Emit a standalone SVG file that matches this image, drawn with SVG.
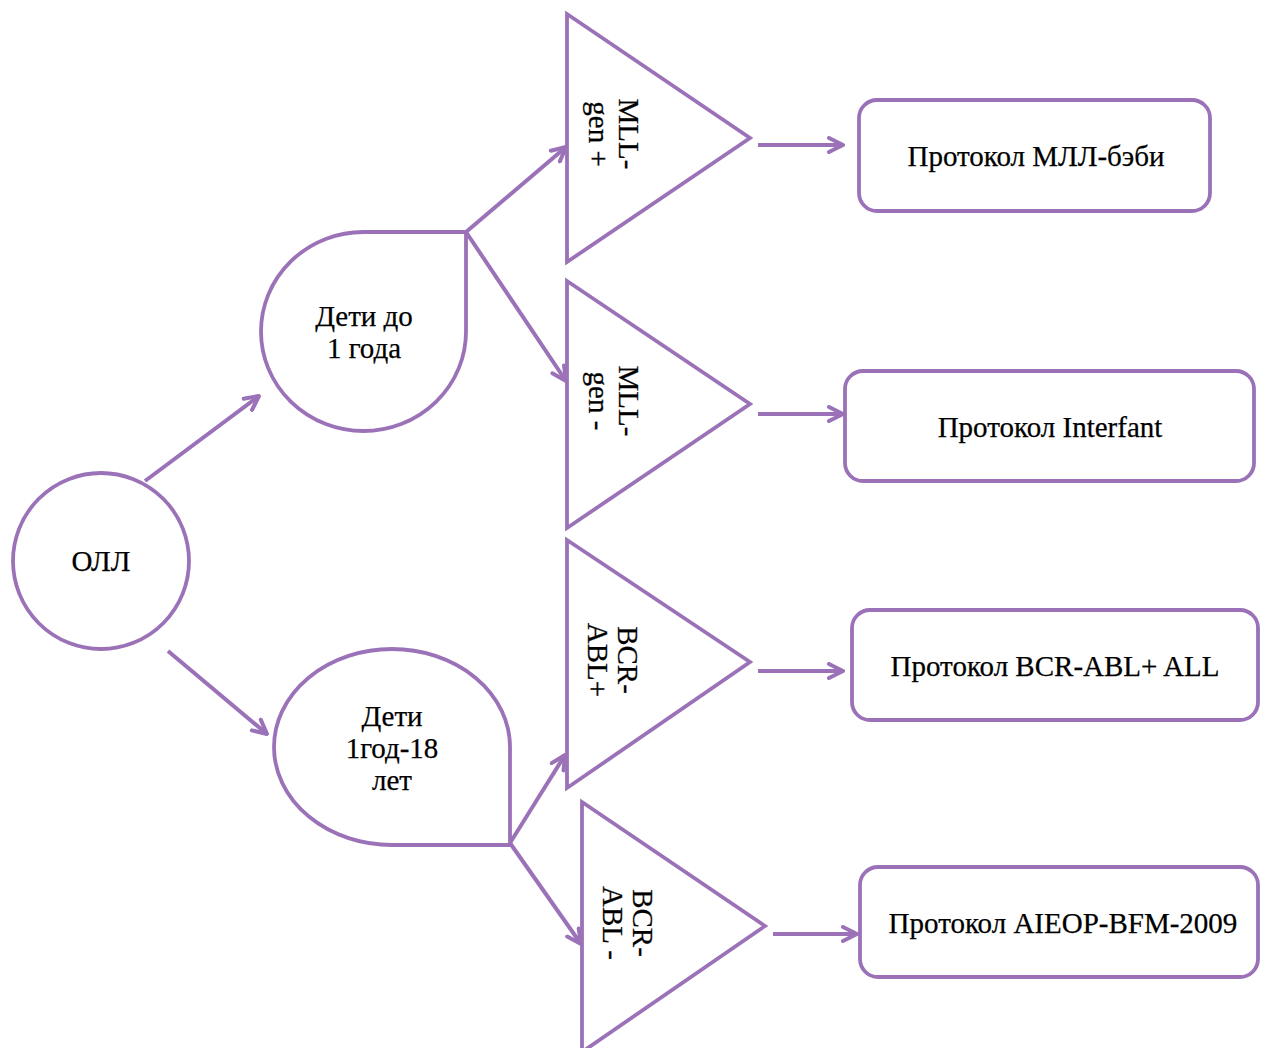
<svg xmlns="http://www.w3.org/2000/svg" width="1261" height="1048" viewBox="0 0 1261 1048">
<style>
.s{fill:#fff;stroke:#9b72b8;stroke-width:3.8;stroke-linejoin:miter}
.c{fill:none;stroke:#9b72b8;stroke-width:4}
.t{font-family:"Liberation Serif","Times New Roman",serif;font-size:29px;fill:#000;text-anchor:middle;stroke:#000;stroke-width:0.25}
</style>
<defs>
<marker id="ah" viewBox="0 0 18 18" refX="16" refY="9" markerWidth="18" markerHeight="18" markerUnits="userSpaceOnUse" orient="auto">
<path d="M2,2 L16,9 L2,16" fill="none" stroke="#9b72b8" stroke-width="4" stroke-linecap="round" stroke-linejoin="round"/>
</marker>
</defs>
<rect width="1261" height="1048" fill="#fff"/>
<g id="connectors">
<line class="c" x1="145" y1="481" x2="259" y2="396" marker-end="url(#ah)"/>
<line class="c" x1="168" y1="651" x2="267" y2="734" marker-end="url(#ah)"/>
<line class="c" x1="466" y1="232" x2="566" y2="147" marker-end="url(#ah)"/>
<line class="c" x1="466" y1="232" x2="566" y2="381" marker-end="url(#ah)"/>
<line class="c" x1="510" y1="843" x2="565" y2="755" marker-end="url(#ah)"/>
<line class="c" x1="510" y1="843" x2="581" y2="944" marker-end="url(#ah)"/>
<line class="c" x1="758" y1="145" x2="843" y2="145" marker-end="url(#ah)"/>
<line class="c" x1="758" y1="414" x2="843" y2="414" marker-end="url(#ah)"/>
<line class="c" x1="758" y1="671" x2="843" y2="671" marker-end="url(#ah)"/>
<line class="c" x1="773" y1="934" x2="857" y2="934" marker-end="url(#ah)"/>
</g>
<g id="oll">
<circle class="s" cx="101" cy="561" r="88"/>
<text class="t" x="101" y="571">ОЛЛ</text>
</g>
<g id="infants">
<path class="s" d="M363.5,232 L466,232 L466,331.5 A102.5,99.5 0 1 1 363.5,232 Z"/>
<text class="t" x="364" y="326">Дети до</text>
<text class="t" x="364" y="358">1 года</text>
</g>
<g id="children">
<path class="s" d="M510,747 L510,845 L392,845 A118,98 0 1 1 510,747 Z"/>
<text class="t" x="392" y="726">Дети</text>
<text class="t" x="392" y="758">1год-18</text>
<text class="t" x="392" y="790">лет</text>
</g>
<g id="mll-pos">
<polygon class="s" points="567,14 750,138 567,262"/>
<g transform="translate(604,134) rotate(90)">
<text class="t" x="0" y="-15">MLL-</text>
<text class="t" x="0" y="15">gen +</text>
</g>
</g>
<g id="mll-neg">
<polygon class="s" points="567,281 750,404 567,528"/>
<g transform="translate(604,401) rotate(90)">
<text class="t" x="0" y="-15">MLL-</text>
<text class="t" x="0" y="15">gen -</text>
</g>
</g>
<g id="bcr-pos">
<polygon class="s" points="567,540 750,662 567,788"/>
<g transform="translate(603,660) rotate(90)">
<text class="t" x="0" y="-15">BCR-</text>
<text class="t" x="0" y="15">ABL+</text>
</g>
</g>
<g id="bcr-neg">
<polygon class="s" points="582,802 765,926 582,1052"/>
<g transform="translate(618,923) rotate(90)">
<text class="t" x="0" y="-15">BCR-</text>
<text class="t" x="0" y="15">ABL -</text>
</g>
</g>
<g id="p-mll">
<rect class="s" x="859" y="100" width="351" height="111" rx="18"/>
<text class="t" x="1036" y="166">Протокол МЛЛ-бэби</text>
</g>
<g id="p-interfant">
<rect class="s" x="845" y="371" width="409" height="110" rx="18"/>
<text class="t" x="1050" y="437">Протокол Interfant</text>
</g>
<g id="p-bcr">
<rect class="s" x="852" y="610" width="406" height="110" rx="18"/>
<text class="t" x="1055" y="676">Протокол BCR-ABL+ ALL</text>
</g>
<g id="p-aieop">
<rect class="s" x="860" y="867" width="398" height="110" rx="18"/>
<text class="t" x="1063" y="933">Протокол AIEOP-BFM-2009</text>
</g>
</svg>
